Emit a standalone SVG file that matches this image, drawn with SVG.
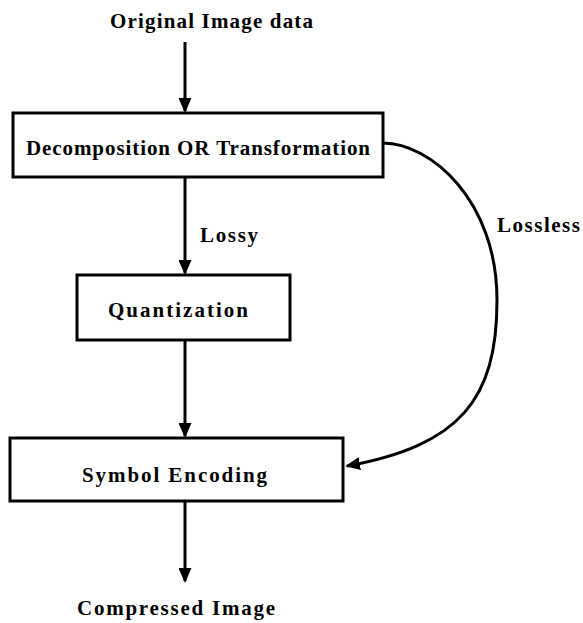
<svg xmlns="http://www.w3.org/2000/svg" width="583" height="623" viewBox="0 0 583 623">
<style>
  .box { fill: #ffffff; stroke: #000000; stroke-width: 3; }
  .lbl { font-family: "Liberation Serif", "Times New Roman", serif; font-size: 21px; font-weight: bold; fill: #000000; }
  .edge { fill: none; stroke: #000000; stroke-width: 3; }
</style>
<defs>
  <marker id="arrow" markerUnits="userSpaceOnUse" markerWidth="15" markerHeight="13" refX="13" refY="6.5" orient="auto">
    <path d="M0,0 L15,6.5 L0,13 Z" fill="#000000"/>
  </marker>
</defs>
<rect width="583" height="623" fill="#ffffff"/>
<g id="connectors">
  <line class="edge" x1="185" y1="42" x2="185" y2="111" marker-end="url(#arrow)"/>
  <line class="edge" x1="185" y1="177" x2="185" y2="273" marker-end="url(#arrow)"/>
  <line class="edge" x1="185" y1="340" x2="185" y2="436" marker-end="url(#arrow)"/>
  <line class="edge" x1="185" y1="501" x2="185" y2="581" marker-end="url(#arrow)"/>
  <path class="edge" d="M383,143 C430,143 497,200 497,300 C497,400 460,445 347,466" marker-end="url(#arrow)"/>
  <text class="lbl" x="200" y="242" textLength="58" lengthAdjust="spacing">Lossy</text>
  <text class="lbl" x="497" y="232" textLength="83" lengthAdjust="spacing">Lossless</text>
</g>
<g id="input">
  <text class="lbl" x="110" y="28" textLength="203" lengthAdjust="spacing">Original Image data</text>
</g>
<g id="decomposition">
  <rect class="box" x="13" y="113" width="370" height="64"/>
  <text class="lbl" x="26" y="155" textLength="344" lengthAdjust="spacing">Decomposition OR Transformation</text>
</g>
<g id="quantization">
  <rect class="box" x="77" y="275" width="213" height="65"/>
  <text class="lbl" x="108" y="317" textLength="140" lengthAdjust="spacing">Quantization</text>
</g>
<g id="symbol-encoding">
  <rect class="box" x="10" y="438" width="333" height="63"/>
  <text class="lbl" x="82" y="482" textLength="185" lengthAdjust="spacing">Symbol Encoding</text>
</g>
<g id="output">
  <text class="lbl" x="77" y="615" textLength="198" lengthAdjust="spacing">Compressed Image</text>
</g>
</svg>
